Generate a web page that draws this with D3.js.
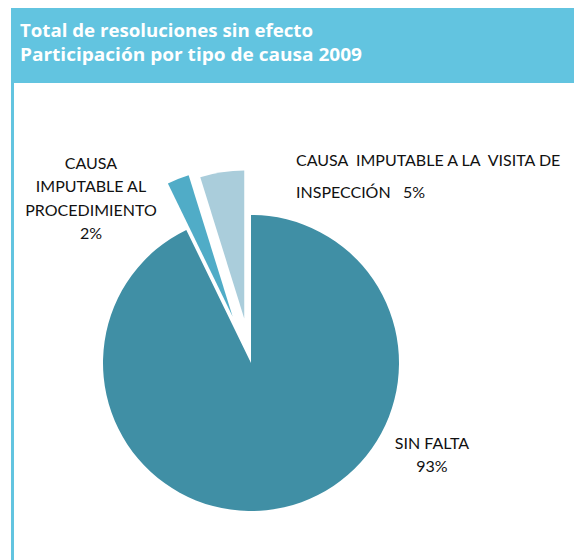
<!DOCTYPE html>
<html>
<head>
<meta charset="utf-8">
<script src="https://cdn.jsdelivr.net/npm/d3@7"></script>
<style>
  body { margin: 0; background: #fff; }
  svg { display: block; }
</style>
</head>
<body>
<div id="main-container"></div>
<script>
// chart data
const titleLines = ['Total de resoluciones sin efecto', 'Participación por tipo de causa 2009']
const causes = ['SIN FALTA', 'CAUSA IMPUTABLE AL PROCEDIMIENTO', 'CAUSA IMPUTABLE A LA VISITA DE INSPECCIÓN']
const shares = [92.8, 2.4, 4.8]
const labelLines = [
  ['SIN FALTA', '93%'],
  ['CAUSA', 'IMPUTABLE AL', 'PROCEDIMIENTO', '2%'],
  ['CAUSA  IMPUTABLE A LA  VISITA DE', 'INSPECCIÓN   5%']
]
const colors = ['#408fa5', '#50acc7', '#aacddb']

const width = 574
const height = 560
const cx = 251
const cy = 363
const radius = 148
const explode = [0, 50, 45]

const svg = d3.select('#main-container').append('svg').attr('width', width).attr('height', height)

// header band + left rule
svg.append('rect').attr('x', 11).attr('y', 8).attr('width', width - 11).attr('height', 75).attr('fill', '#62c4e0')
svg.append('rect').attr('x', 11).attr('y', 83).attr('width', 3).attr('height', height - 83).attr('fill', '#62c4e0')

const titleWidths = [293, 342]
svg.selectAll('.title').data(titleLines).enter().append('text')
  .attr('class', 'title')
  .attr('x', 20)
  .attr('y', (d, i) => 37 + i * 24)
  .attr('fill', '#fff')
  .attr('textLength', (d, i) => titleWidths[i])
  .attr('lengthAdjust', 'spacingAndGlyphs')
  .style('font-family', '"Open Sans", sans-serif')
  .style('font-weight', 700)
  .style('font-size', '17.5px')
  .text(d => d)

const data = causes.map((c, i) => ({ cause: c, value: shares[i], i: i }))
const pie = d3.pie().value(d => d.value).sort(null)
const arc = d3.arc().innerRadius(0).outerRadius(radius)
const arcs = pie(data)

svg.append('g').attr('transform', `translate(${cx},${cy})`)
  .selectAll('path').data(arcs).enter().append('path')
  .attr('transform', d => {
    const mid = (d.startAngle + d.endAngle) / 2
    const k = explode[d.index]
    return `translate(${Math.sin(mid) * k},${-Math.cos(mid) * k})`
  })
  .attr('d', arc)
  .attr('fill', (d, i) => colors[i])

// labels
const labelFont = 'Lato, sans-serif'
const labelPos = [
  { x: 432, y: 449, anchor: 'middle', step: 23 },
  { x: 91, y: 169, anchor: 'middle', step: 23.3 },
  { x: 296, y: 166, anchor: 'start', step: 32 }
]

labelLines.forEach((lines, i) => {
  const p = labelPos[i]
  svg.append('text')
    .attr('x', p.x).attr('y', p.y)
    .attr('text-anchor', p.anchor)
    .attr('fill', '#111')
    .style('font-family', labelFont)
    .style('font-size', '16px')
    .style('white-space', 'pre')
    .selectAll('tspan').data(lines).enter().append('tspan')
    .attr('x', p.x)
    .attr('dy', (d, j) => j === 0 ? 0 : p.step)
    .text(d => d)
})
</script>
</body>
</html>
